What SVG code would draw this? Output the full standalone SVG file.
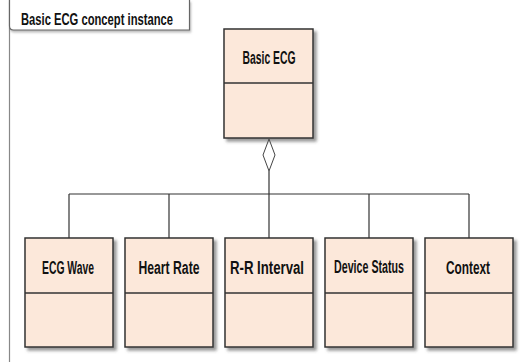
<svg xmlns="http://www.w3.org/2000/svg" width="528" height="362" viewBox="0 0 528 362">
  <defs>
    <filter id="shadow" x="-10%" y="-10%" width="130%" height="130%">
      <feDropShadow dx="3" dy="3" stdDeviation="1.5" flood-color="#555" flood-opacity="0.6"/>
    </filter>
    <filter id="tabShadow" x="-5%" y="-20%" width="110%" height="160%">
      <feDropShadow dx="1" dy="2" stdDeviation="1" flood-color="#777" flood-opacity="0.5"/>
    </filter>
  </defs>
  <style>
    .box { fill: #fce8da; stroke: #333; stroke-width: 1.5; }
    .div { stroke: #333; stroke-width: 1.5; fill: none; }
    .lbl { font-family: "Liberation Sans", Arial, sans-serif; font-weight: bold; font-size: 17.5px; fill: #111; text-anchor: middle; }
    .conn { stroke: #333; stroke-width: 1.2; fill: none; }
  </style>
  <rect width="528" height="362" fill="#fff"/>

  <!-- frame with name tab -->
  <g id="frame">
    <line x1="9.5" y1="0" x2="9.5" y2="362" stroke="#888" stroke-width="1.2"/>
    <path d="M9.5 0 V26 Q9.5 30 13.5 30 H189.5 V0" fill="#fff" stroke="#666" stroke-width="1.2" filter="url(#tabShadow)"/>
    <text x="21" y="25" font-family="Liberation Sans, Arial, sans-serif" font-weight="bold" font-size="16.5" fill="#111" textLength="152" lengthAdjust="spacingAndGlyphs">Basic ECG concept instance</text>
  </g>

  <!-- connectors: composition from Basic ECG to its parts -->
  <g id="connectors">
    <polygon points="269,139 275,155 269,171 263,155" fill="#fff" stroke="#444" stroke-width="1"/>
    <line class="conn" x1="269" y1="171" x2="269" y2="194"/>
    <line class="conn" x1="69" y1="194" x2="469" y2="194"/>
    <line class="conn" x1="69" y1="194" x2="69" y2="238"/>
    <line class="conn" x1="169" y1="194" x2="169" y2="238"/>
    <line class="conn" x1="269" y1="194" x2="269" y2="238"/>
    <line class="conn" x1="369" y1="194" x2="369" y2="238"/>
    <line class="conn" x1="469" y1="194" x2="469" y2="238"/>
  </g>

  <g id="basic-ecg">
    <rect class="box" x="224" y="29" width="89" height="109" filter="url(#shadow)"/>
    <line class="div" x1="224" y1="83" x2="313" y2="83"/>
    <text class="lbl" x="269" y="64" textLength="53" lengthAdjust="spacingAndGlyphs">Basic ECG</text>
  </g>

  <g id="ecg-wave">
    <rect class="box" x="25" y="238" width="88" height="109" filter="url(#shadow)"/>
    <line class="div" x1="25" y1="293" x2="113" y2="293"/>
    <text class="lbl" x="68" y="274" textLength="52" lengthAdjust="spacingAndGlyphs">ECG Wave</text>
  </g>

  <g id="heart-rate">
    <rect class="box" x="125" y="238" width="88" height="109" filter="url(#shadow)"/>
    <line class="div" x1="125" y1="293" x2="213" y2="293"/>
    <text class="lbl" x="169" y="274" textLength="61" lengthAdjust="spacingAndGlyphs">Heart Rate</text>
  </g>

  <g id="rr-interval">
    <rect class="box" x="225" y="238" width="88" height="109" filter="url(#shadow)"/>
    <line class="div" x1="225" y1="293" x2="313" y2="293"/>
    <text class="lbl" x="267" y="274" textLength="74" lengthAdjust="spacingAndGlyphs">R-R Interval</text>
  </g>

  <g id="device-status">
    <rect class="box" x="325" y="238" width="88" height="109" filter="url(#shadow)"/>
    <line class="div" x1="325" y1="293" x2="413" y2="293"/>
    <text class="lbl" x="369" y="273" textLength="70" lengthAdjust="spacingAndGlyphs">Device Status</text>
  </g>

  <g id="context">
    <rect class="box" x="425" y="238" width="88" height="109" filter="url(#shadow)"/>
    <line class="div" x1="425" y1="293" x2="513" y2="293"/>
    <text class="lbl" x="468" y="274" textLength="44" lengthAdjust="spacingAndGlyphs">Context</text>
  </g>
</svg>
